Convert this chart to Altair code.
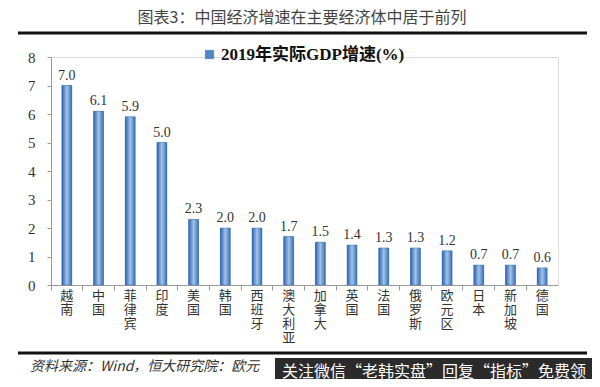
import altair as alt
import pandas as pd

countries = ["越南", "中国", "菲律宾", "印度", "美国", "韩国", "西班牙", "澳大利亚",
             "加拿大", "英国", "法国", "俄罗斯", "欧元区", "日本", "新加坡", "德国"]
growth = [7.0, 6.1, 5.9, 5.0, 2.3, 2.0, 2.0, 1.7, 1.5, 1.4, 1.3, 1.3, 1.2, 0.7, 0.7, 0.6]
series_name = "2019年实际GDP增速(%)"
title_text = "图表3：中国经济增速在主要经济体中居于前列"
source_text = "资料来源：Wind，恒大研究院：欧元"
watermark_text = "关注微信“老韩实盘”回复“指标”免费领"

df = pd.DataFrame({"country": countries, "growth": growth, "series": series_name})

SERIF = "Liberation Serif, Times New Roman, Noto Sans CJK SC"
CJK = "Noto Sans CJK SC"

gradient = alt.Gradient(
    gradient="linear",
    stops=[alt.GradientStop(color="#2A62AA", offset=0),
           alt.GradientStop(color="#A3C2E8", offset=0.5),
           alt.GradientStop(color="#3570BB", offset=1)],
    x1=0, x2=1, y1=0, y2=0,
)

x_scale = alt.Scale(paddingInner=0, paddingOuter=0)

x_enc = alt.X("country:N", sort=countries, title=None, scale=x_scale,
              axis=alt.Axis(labelExpr="split(datum.label, '')", labelAngle=0,
                            labelFont=CJK, labelFontSize=13, labelColor="#333",
                            labelLineHeight=14, labelBaseline="top", labelPadding=4,
                            ticks=False, domainColor="#999", orient="bottom"))
y_enc = alt.Y("growth:Q", title=None,
              scale=alt.Scale(domain=[0, 8]),
              axis=alt.Axis(values=list(range(9)), grid=False, domainColor="#999",
                            tickColor="#999", tickSize=4, labelFont=SERIF,
                            labelFontSize=15, labelColor="#333", labelPadding=12,
                            labelOverlap=False))

base = alt.Chart(df)

legend_bars = base.mark_bar(size=10).encode(
    x=alt.X("country:N", sort=countries, title=None, scale=x_scale, axis=None),
    y=y_enc,
    color=alt.Color("series:N", scale=alt.Scale(range=["#4F86C8"]),
                    legend=alt.Legend(title=None, orient="none", legendX=150, legendY=-11,
                                      symbolType="square", symbolSize=70,
                                      symbolStrokeColor="#2A62AA", symbolStrokeWidth=0.5,
                                      labelFont=SERIF, labelFontSize=17,
                                      labelFontWeight="bold", labelColor="#111",
                                      labelOffset=3, labelLimit=0)),
)

bars = base.mark_bar(size=10, fill=gradient, stroke="#2A62AA", strokeWidth=0.4).encode(
    x=x_enc, y=y_enc,
)

labels = base.mark_text(dy=-10, font=SERIF, fontSize=14, color="#333").encode(
    x=alt.X("country:N", sort=countries, scale=x_scale,
            axis=alt.Axis(bandPosition=0, labels=False, ticks=True, tickSize=5,
                          tickColor="#999", domain=False, orient="bottom", title=None)),
    y=y_enc,
    text=alt.Text("growth:Q", format=".1f"),
)

one = pd.DataFrame({"a": [0]})

title_mark = alt.Chart(one).mark_text(font=CJK, fontSize=16, color="#444",
                                      align="center", baseline="middle").encode(
    x=alt.value(251), y=alt.value(-39), text=alt.value(title_text))

top_rule = alt.Chart(one).mark_rule(color="#111", strokeWidth=3).encode(
    x=alt.value(-33), x2=alt.value(536), y=alt.value(-24))

bottom_rule = alt.Chart(one).mark_rule(color="#111", strokeWidth=3).encode(
    x=alt.value(-33), x2=alt.value(536), y=alt.value(296))

source_mark = alt.Chart(one).mark_text(font=CJK, fontSize=14, fontStyle="italic",
                                       color="#333", align="left", baseline="middle").encode(
    x=alt.value(-21), y=alt.value(310), text=alt.value(source_text))

wm_box = alt.Chart(one).mark_rect(color="#2B2B2B").encode(
    x=alt.value(224), x2=alt.value(560), y=alt.value(301), y2=alt.value(340))

wm_text = alt.Chart(one).mark_text(font=CJK, fontSize=16, color="#FFFFFF",
                                   align="left", baseline="middle").encode(
    x=alt.value(231), y=alt.value(315), text=alt.value(watermark_text))

chart = alt.layer(
    legend_bars, bars, labels, title_mark, top_rule, bottom_rule, source_mark, wm_box, wm_text
).resolve_axis(x="independent").properties(
    width=507, height=228,
    autosize=alt.AutoSizeParams(type="none"),
    padding={"left": 43, "top": 49, "right": 34, "bottom": 94},
).configure_view(stroke=None).configure(background="white")

chart.save("out.html", embed_options={"renderer": "svg", "actions": False})
